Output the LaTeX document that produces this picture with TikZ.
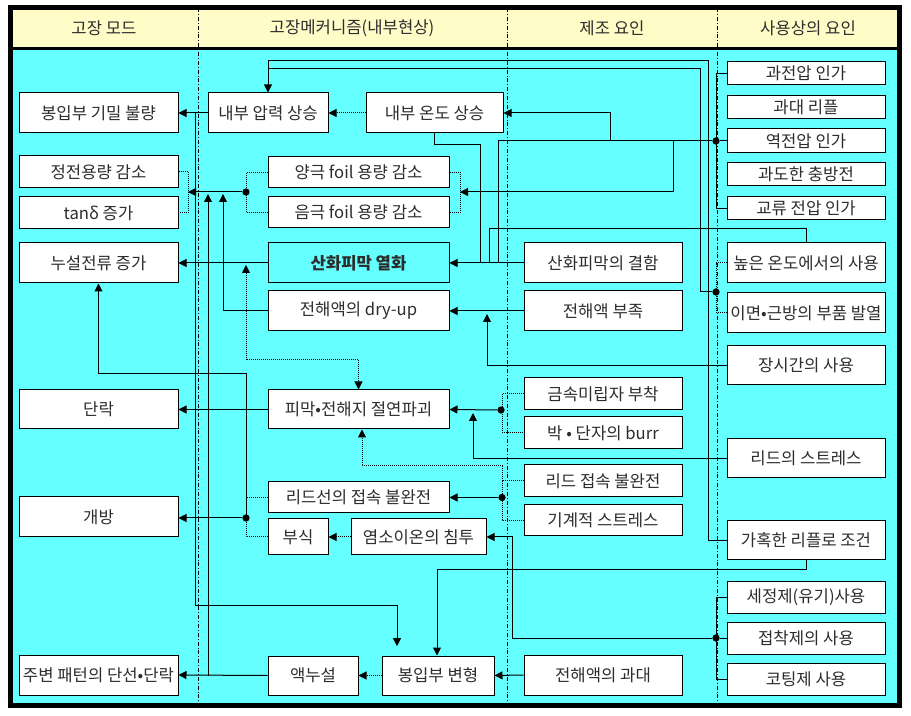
\documentclass[tikz,border=0pt]{standalone}
\usepackage{fontspec}
\setmainfont{Noto Sans CJK KR}
\usetikzlibrary{arrows.meta}
\definecolor{bgcyan}{RGB}{102,255,255}
\definecolor{hdr}{RGB}{255,252,200}
\definecolor{txt}{RGB}{45,45,45}
\tikzset{
  box/.style={draw=black, fill=white, line width=0.75pt, inner sep=0pt, font=\fontsize{12.5}{14}\selectfont, text=txt},
  hdrtext/.style={font=\fontsize{12.5}{14}\selectfont, text=txt, inner sep=0pt},
  ln/.style={line width=0.75pt},
  arr/.style={line width=0.75pt, -{Triangle[length=6pt,width=6pt]}},
  dotln/.style={line width=0.75pt, dash pattern=on 0.75pt off 0.75pt},
  darr/.style={dotln, -{Triangle[length=6pt,width=6pt]}},
  dbarr/.style={dotln, {Triangle[length=6pt,width=6pt]}-{Triangle[length=6pt,width=6pt]}},
  jn/.style={circle, fill=black, inner sep=0pt, minimum size=5.5pt},
  divider/.style={line width=0.5pt, dash pattern=on 3pt off 1.5pt on 0.6pt off 1.5pt}
}
\newcommand\bx[7][]{\node[box,#1,minimum width={(#5-#3)*0.75pt},minimum height={(#6-#4)*0.75pt}] (#2) at ({(#3+#5)/2},{(#4+#6)/2}) {#7};}
\begin{document}
\begin{tikzpicture}[x=0.75pt,y=-0.75pt]
\useasboundingbox (0,0) rectangle (911,716);
\fill[white] (0,0) rectangle (911,716);
\fill[hdr] (10,7.5) rectangle (899,48);
\fill[bgcyan] (10,48) rectangle (899,705.5);
\draw[line width=2.25pt] (10,48.3) -- (899,48.3);
\foreach \xx in {198,507,717} \draw[divider] (\xx,8) -- (\xx,705);
\draw[line width=3.75pt] (10,7.5) rectangle (899,705.5);

% headers
\node[hdrtext] (h1) at (104,28) {고장 모드};
\node[hdrtext] (h2) at (352,28) {고장메커니즘(내부현상)};
\node[hdrtext] (h3) at (612,28) {제조 요인};
\node[hdrtext] (h4) at (808,28) {사용상의 요인};

% column 1: failure modes
\bx{m1}{19}{93}{178}{133}{봉입부 기밀 불량}
\bx{m2}{19}{156}{178}{188}{정전용량 감소}
\bx{m3}{19}{197}{178}{229}{tanδ 증가}
\bx{m4}{19}{243}{178}{283}{누설전류 증가}
\bx{m5}{19}{390}{178}{429}{단락}
\bx{m6}{19}{497}{178}{537}{개방}
\bx{m7}{19}{655}{178}{695}{주변 패턴의 단선•단락}

% column 2: mechanisms
\bx{k1}{208}{93}{328}{133}{내부 압력 상승}
\bx{k2}{366}{93}{503}{133}{내부 온도 상승}
\bx{k3}{268}{157}{449}{188}{양극 foil 용량 감소}
\bx{k4}{268}{197}{449}{228}{음극 foil 용량 감소}
\bx[fill=none,font=\fontsize{12.5}{14}\selectfont\bfseries]{k5}{268}{243}{449}{283}{산화피막 열화}
\bx{k6}{268}{291}{449}{331}{전해액의 dry-up}
\bx{k7}{268}{390}{449}{429}{피막•전해지 절연파괴}
\bx{k8}{268}{482}{449}{513}{리드선의 접속 불완전}
\bx{k9}{268}{519}{328}{555}{부식}
\bx{k10}{351}{519}{486}{555}{염소이온의 침투}
\bx{k11}{268}{656}{358}{695}{액누설}
\bx{k12}{382}{656}{494}{695}{봉입부 변형}

% column 3: manufacturing factors
\bx{p1}{524}{243}{682}{283}{산화피막의 결함}
\bx{p2}{524}{291}{682}{331}{전해액 부족}
\bx{p3}{524}{378}{682}{410}{금속미립자 부착}
\bx{p4}{524}{417}{682}{449}{박 • 단자의 burr}
\bx{p5}{524}{465}{682}{497}{리드 접속 불완전}
\bx{p6}{524}{505}{682}{536}{기계적 스트레스}
\bx{p7}{524}{655}{682}{695}{전해액의 과대}

% column 4: usage factors
\bx{u1}{727}{62}{885}{85}{과전압 인가}
\bx{u2}{727}{96}{885}{119}{과대 리플}
\bx{u3}{727}{129}{885}{153}{역전압 인가}
\bx{u4}{727}{163}{885}{186}{과도한 충방전}
\bx{u5}{727}{197}{885}{220}{교류 전압 인가}
\bx{u6}{727}{243}{885}{283}{높은 온도에서의 사용}
\bx{u7}{727}{293}{885}{333}{이면•근방의 부품 발열}
\bx{u8}{727}{346}{885}{385}{장시간의 사용}
\bx{u9}{727}{439}{885}{478}{리드의 스트레스}
\bx{u10}{727}{521}{885}{560}{가혹한 리플로 조건}
\bx{u11}{727}{582}{885}{613}{세정제(유기)사용}
\bx{u12}{727}{622}{885}{654}{접착제의 사용}
\bx{u13}{727}{663}{885}{695}{코팅제 사용}

% junction dots
\node[jn] (d1) at (716,292) {};
\node[jn] (d2) at (716,141) {};
\node[jn] (d3) at (246,192) {};
\node[jn] (d4) at (501,410) {};
\node[jn] (d5) at (502,497.5) {};
\node[jn] (d6) at (246,518) {};
\node[jn] (d7) at (716,638) {};

% bracket targets
\coordinate (bm) at (188,192);
\coordinate (bk) at (460,192);

% ---- connectors ----
\draw[arr] (k1.west) -- (m1.east);
\draw[darr] (k2.west) -- (k1.east);
\draw[arr] (u10.west) -- (708,540.5) -- (708,61) -- (268,61) -- (k1.north);
\draw[dotln] (u6.west) -- (716,263) -- (716,313) -- (u7.west);
\draw[ln] (d1) -- (700,292) -- (700,69) -- (268,69);

\draw[ln] (u1.west) -- (716,73.5) -- (716,208.5) -- (u5.west);
\draw[ln] (u3.west) -- (d2) -- (498,141) -- (498,263);
\draw[arr] (610,141) -- (610,113) -- (k2.east);
\draw[arr] (673,141) -- (673,192) -- (bk);
\draw[dotln] (k3.east) -- (460,172.5) -- (460,212.5) -- (k4.east);

\draw[arr] (p1.west) -- (k5.east);
\draw[ln] (k2.south) -- (434.5,145) -- (480,145) -- (480,263);
\draw[ln] (u6.north) -- (806,229) -- (489,229) -- (489,263);
\draw[arr] (k5.west) -- (m4.east);
\draw[dbarr] (246,265) -- (246,360) -- (358.5,360) -- (k7.north);

\draw[arr] (p2.west) -- (k6.east);
\draw[arr] (u8.west) -- (487,365.5) -- (487,314);
\draw[arr] (k6.west) -- (223,311) -- (223,194);

\draw[dotln] (k3.west) -- (246,172.5) -- (246,212.5) -- (k4.west);
\draw[arr] (d3) -- (bm);
\draw[dotln] (m2.east) -- (188,172) -- (188,213) -- (m3.east);

\draw[arr] (k11.west) -- (m7.east);
\draw[arr] (208,675.5) -- (208,194);
\draw[arr, shorten >=7pt] (195,113) -- (195,605) -- (397,605) -- (k12.north -| 397,0);

\draw[arr] (k7.west) -- (m5.east);
\draw[dotln] (p3.west) -- (502,394) -- (502,433) -- (p4.west);
\draw[arr] (d4) -- (k7.east);
\draw[arr] (u9.west) -- (473,458.5) -- (473,413);

\draw[dotln] (p5.west) -- (502,481) -- (502,520.5) -- (p6.west);
\draw[darr] (502,481) -- (502,466) -- (362,466) -- (k7.south -| 362,0);
\draw[arr] (d5) -- (k8.east);

\draw[dotln] (k8.west) -- (246,497.5) -- (246,537) -- (k9.west);
\draw[arr] (d6) -- (m6.east |- d6);
\draw[arr] (d6) -- (246,374) -- (98.5,374) -- (m4.south);

\draw[darr] (k10.west) -- (k9.east);
\draw[ln] (u11.west) -- (716,597.5) -- (716,679) -- (u13.west);
\draw[arr] (u12.west) -- (d7) -- (512,638) -- (512,537) -- (k10.east);
\draw[arr] (u10.south) -- (806,570) -- (437,570) -- (k12.north -| 437,0);
\draw[darr] (k12.west) -- (k11.east);
\draw[arr] (p7.west) -- (k12.east);
\end{tikzpicture}
\end{document}
